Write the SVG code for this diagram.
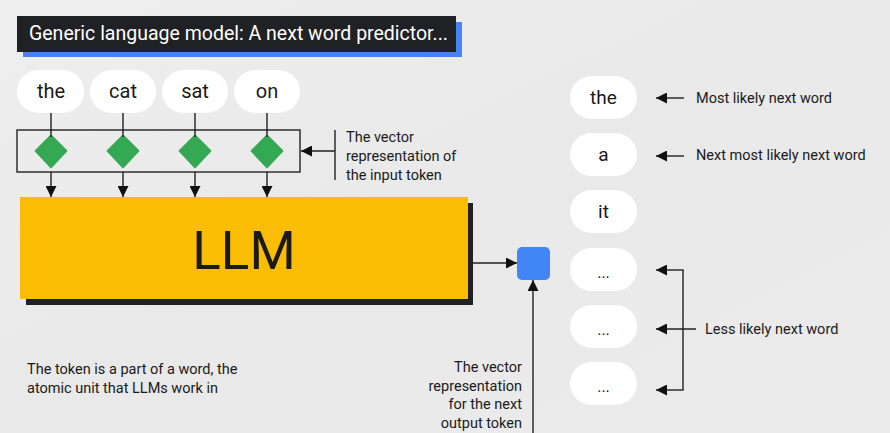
<svg xmlns="http://www.w3.org/2000/svg" width="890" height="433" viewBox="0 0 890 433">
<defs>
<linearGradient id="bg" x1="0" y1="0" x2="1" y2="1">
<stop offset="0" stop-color="#eeeeee"/>
<stop offset="0.5" stop-color="#e9e9e9"/>
<stop offset="1" stop-color="#ebebeb"/>
</linearGradient>
<marker id="ah" markerUnits="userSpaceOnUse" markerWidth="11" markerHeight="11" viewBox="0 0 10 10" refX="10" refY="5" orient="auto">
<path d="M0,0 L10,5 L0,10 z" fill="#111"/>
</marker>
<style>
.t{font-family:Roboto,"Liberation Sans",sans-serif;fill:#1a1a1a}
.pill{fill:#ffffff}
.tok{font-size:20px;text-anchor:middle}
.lbl{font-size:14.5px}
.ln{stroke:#222;stroke-width:1.4;fill:none}
.arr{stroke:#222;stroke-width:1.4;fill:none;marker-end:url(#ah)}
.dia{fill:#34a853}
</style>
</defs>
<rect width="890" height="433" fill="url(#bg)"/>

<g id="title">
<rect x="23" y="22" width="439" height="35" fill="#4285f4"/>
<rect x="17" y="16" width="439" height="36" fill="#1f2125"/>
<text x="29" y="40" font-family="Roboto,'Liberation Sans',sans-serif" font-size="19.5" fill="#ffffff">Generic language model: A next word predictor...</text>
</g>

<g id="input-tokens">
<g id="tok-the"><rect class="pill" x="17" y="70" width="67" height="43" rx="21.5"/><text class="t tok" x="51" y="98">the</text></g>
<g id="tok-cat"><rect class="pill" x="90" y="70" width="66" height="43" rx="21.5"/><text class="t tok" x="123" y="98">cat</text></g>
<g id="tok-sat"><rect class="pill" x="162" y="70" width="66" height="43" rx="21.5"/><text class="t tok" x="195" y="98">sat</text></g>
<g id="tok-on"><rect class="pill" x="234" y="70" width="66" height="43" rx="21.5"/><text class="t tok" x="267" y="98">on</text></g>
</g>

<g id="embedding-box">
<rect x="17" y="130" width="283" height="42" fill="none" stroke="#222" stroke-width="1.4"/>
<path class="dia" d="M51,136 L66,151 L51,167 L36,151 z" stroke="#34a853" stroke-width="2.5" stroke-linejoin="round"/>
<path class="dia" d="M123,136 L138,151 L123,167 L108,151 z" stroke="#34a853" stroke-width="2.5" stroke-linejoin="round"/>
<path class="dia" d="M195,136 L210,151 L195,167 L180,151 z" stroke="#34a853" stroke-width="2.5" stroke-linejoin="round"/>
<path class="dia" d="M267,136 L282,151 L267,167 L252,151 z" stroke="#34a853" stroke-width="2.5" stroke-linejoin="round"/>
</g>

<g id="llm">
<rect x="26" y="203" width="447" height="102" fill="#1f2125"/>
<rect x="20" y="197" width="448" height="102" fill="#fbbc04"/>
<text class="t" x="244" y="269" font-size="53" text-anchor="middle">LLM</text>
</g>

<g id="output-vector">
<rect x="517" y="247" width="33" height="33" rx="5" fill="#4285f4"/>
</g>

<g id="output-tokens">
<g id="out-the"><rect class="pill" x="570" y="76" width="67" height="43" rx="21.5"/><text class="t" x="603.5" y="104" font-size="19" text-anchor="middle">the</text></g>
<g id="out-a"><rect class="pill" x="570" y="133" width="67" height="43" rx="21.5"/><text class="t" x="603.5" y="161" font-size="19" text-anchor="middle">a</text></g>
<g id="out-it"><rect class="pill" x="570" y="190" width="67" height="43" rx="21.5"/><text class="t" x="603.5" y="218" font-size="19" text-anchor="middle">it</text></g>
<g id="out-e1"><rect class="pill" x="570" y="248" width="67" height="43" rx="21.5"/><text class="t" x="603.5" y="278" font-size="16" text-anchor="middle">...</text></g>
<g id="out-e2"><rect class="pill" x="570" y="305" width="67" height="43" rx="21.5"/><text class="t" x="603.5" y="335" font-size="16" text-anchor="middle">...</text></g>
<g id="out-e3"><rect class="pill" x="570" y="362" width="67" height="43" rx="21.5"/><text class="t" x="603.5" y="392" font-size="16" text-anchor="middle">...</text></g>
</g>

<g id="labels">
<text class="t lbl" x="346"><tspan x="346" y="142">The vector</tspan><tspan x="346" y="161">representation of</tspan><tspan x="346" y="180">the input token</tspan></text>
<text class="t lbl" x="27"><tspan x="27" y="374">The token is a part of a word, the</tspan><tspan x="27" y="393">atomic unit that LLMs work in</tspan></text>
<text class="t lbl" text-anchor="end"><tspan x="522" y="372">The vector</tspan><tspan x="522" y="391">representation</tspan><tspan x="522" y="409">for the next</tspan><tspan x="522" y="428">output token</tspan></text>
<text class="t lbl" x="696" y="103">Most likely next word</text>
<text class="t lbl" x="696" y="160">Next most likely next word</text>
<text class="t lbl" x="705" y="334">Less likely next word</text>
</g>

<g id="connectors">
<line class="ln" x1="51" y1="113" x2="51" y2="137"/>
<line class="ln" x1="123" y1="113" x2="123" y2="137"/>
<line class="ln" x1="195" y1="113" x2="195" y2="137"/>
<line class="ln" x1="267" y1="113" x2="267" y2="137"/>
<line class="arr" x1="51" y1="172" x2="51" y2="197"/>
<line class="arr" x1="123" y1="172" x2="123" y2="197"/>
<line class="arr" x1="195" y1="172" x2="195" y2="197"/>
<line class="arr" x1="267" y1="172" x2="267" y2="197"/>
<line class="ln" x1="335" y1="130" x2="335" y2="180"/>
<line class="arr" x1="335" y1="151" x2="301" y2="151"/>
<line class="arr" x1="473" y1="263" x2="517" y2="263"/>
<line class="arr" x1="533" y1="433" x2="533" y2="280"/>
<line class="arr" x1="684" y1="98" x2="656" y2="98"/>
<line class="arr" x1="684" y1="156" x2="656" y2="156"/>
<line class="ln" x1="683" y1="270" x2="683" y2="390"/>
<line class="arr" x1="683.7" y1="270" x2="656" y2="270"/>
<line class="arr" x1="696" y1="329" x2="656" y2="329"/>
<line class="arr" x1="683.7" y1="390" x2="656" y2="390"/>
</g>
</svg>
